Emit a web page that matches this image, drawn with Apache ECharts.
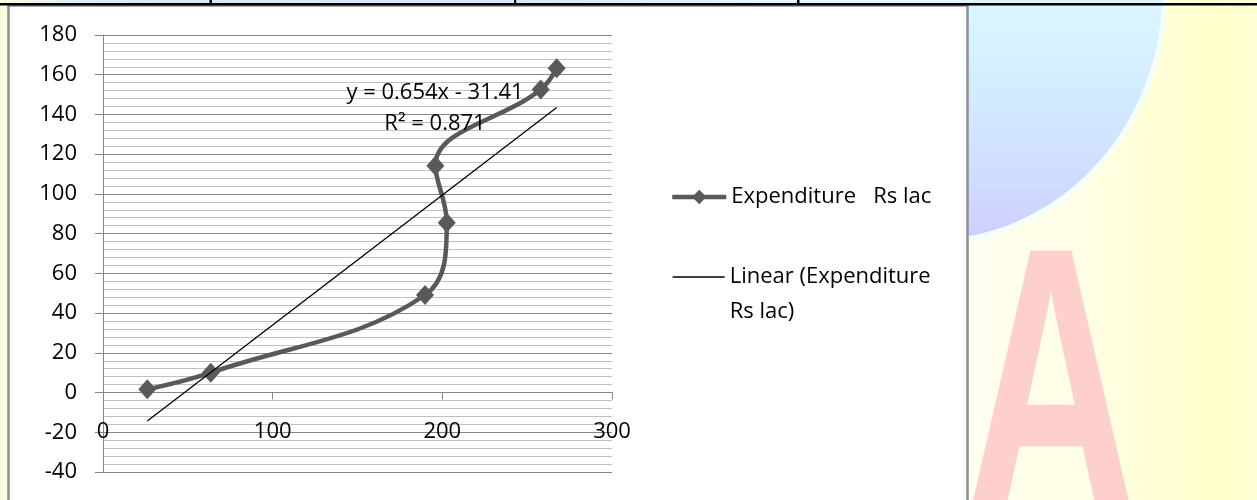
<!DOCTYPE html>
<html>
<head>
<meta charset="utf-8">
<script src="https://cdn.jsdelivr.net/npm/echarts@6/dist/echarts.min.js"></script>
<style>
  html, body { margin: 0; padding: 0; background: #fffde6; }
  #chart { width: 1257px; height: 500px; }
</style>
</head>
<body>
<div id="chart"></div>
<script>
// Expenditure (Rs lac) against the horizontal measure, with its linear fit
const seriesName = 'Expenditure   Rs lac';
const trendName = 'Linear (Expenditure Rs lac)';
const xValues = [26.1, 63.5, 189.8, 202.6, 195.9, 258.0, 267.4];
const expenditure = [1.6, 10.0, 49.1, 85.5, 114.2, 152.6, 163.2];

// Fitted trend line as stated in its label
const trendSlope = 0.654;
const trendIntercept = -31.41;
const rSquared = 0.871;

// Axis ticks
const xTicks = [0, 100, 200, 300];
const yTicks = [-40, -20, 0, 20, 40, 60, 80, 100, 120, 140, 160, 180];

const FONT = '"Open Sans", "Noto Sans", sans-serif';
const FONT_SIZE = 22;
const AXIS_GREY = '#868686';

const points = xValues.map((x, i) => [x, expenditure[i]]);
const xMin = Math.min(...xValues);
const xMax = Math.max(...xValues);
const trendAt = x => trendSlope * x + trendIntercept;
const trendPoints = [[xMin, trendAt(xMin)], [xMax, trendAt(xMax)]];
const equationText =
  'y = ' + trendSlope + 'x ' + (trendIntercept < 0 ? '- ' : '+ ') + Math.abs(trendIntercept) +
  '\nR\u00B2 = ' + rSquared;

const G = echarts.graphic;
const chart = echarts.init(document.getElementById('chart'), null, { renderer: 'canvas' });

const option = {
  animation: false,
  textStyle: { fontFamily: FONT },
  graphic: {
    elements: [
      // page behind the chart box
      { type: 'rect', silent: true, z: -20, z2: 1,
        shape: { x: 0, y: 0, width: 1257, height: 500 },
        style: { fill: '#fdfbe2' } },
      { type: 'rect', silent: true, z: -20, z2: 2,
        shape: { x: 960, y: 0, width: 297, height: 500 },
        style: { fill: new G.LinearGradient(0, 0, 1, 0, [
          { offset: 0, color: '#fffff2' },
          { offset: 0.45, color: '#fffde2' },
          { offset: 0.85, color: '#ffffcc' },
          { offset: 1, color: '#ffffd4' }
        ]) } },
      // globe watermark
      { type: 'ellipse', silent: true, z: -20, z2: 3,
        shape: { cx: 930, cy: -10, rx: 235, ry: 252 },
        style: {
          fill: new G.LinearGradient(0, 0, 0, 1, [
            { offset: 0, color: '#e2fcff' },
            { offset: 0.5, color: '#dcf8ff' },
            { offset: 0.7, color: '#d2ecff' },
            { offset: 0.88, color: '#d0dbff' },
            { offset: 1, color: '#cccdff' }
          ]),
          stroke: '#f3ffff', lineWidth: 5
        } },
      // letter watermark
      { type: 'text', silent: true, z: -20, z2: 4,
        x: 1051, y: 408, scaleX: 0.63,
        style: {
          text: 'A', fontFamily: '"Liberation Sans", Arial, sans-serif', fontWeight: 'bold',
          fontSize: 382, fill: '#fed0cc', align: 'center', verticalAlign: 'middle'
        } },
      // thin strip of page above the table rule
      { type: 'rect', silent: true, z: -20, z2: 5,
        shape: { x: 0, y: 0, width: 968, height: 3.2 },
        style: { fill: new G.LinearGradient(0, 0, 1, 0, [
          { offset: 0, color: '#fdfbe0' },
          { offset: 0.1, color: '#d8eaff' },
          { offset: 0.5, color: '#d2e8ff' },
          { offset: 0.8, color: '#e6f4ff' },
          { offset: 1, color: '#e0f6ff' }
        ]) } },
      // white chart box
      { type: 'rect', silent: true, z: -20, z2: 6,
        shape: { x: 8.5, y: 5.5, width: 959, height: 500 },
        style: { fill: '#ffffff', stroke: '#8f8f8f', lineWidth: 2.5 } },
      // table rules
      { type: 'rect', silent: true, z: -20, z2: 7,
        shape: { x: 0, y: 3, width: 1257, height: 2.6 },
        style: { fill: '#000000' } },
      { type: 'rect', silent: true, z: -20, z2: 8,
        shape: { x: 209.5, y: 0, width: 2.5, height: 5 }, style: { fill: '#000000' } },
      { type: 'rect', silent: true, z: -20, z2: 8,
        shape: { x: 514, y: 0, width: 2.2, height: 5 }, style: { fill: '#000000' } },
      { type: 'rect', silent: true, z: -20, z2: 8,
        shape: { x: 797, y: 0, width: 2.5, height: 5 }, style: { fill: '#000000' } }
    ]
  },
  grid: { left: 103, top: 35, width: 509, height: 437, outerBoundsMode: 'none', containLabel: false },
  xAxis: {
    type: 'value',
    min: xTicks[0], max: xTicks[xTicks.length - 1], interval: xTicks[1] - xTicks[0],
    axisLine: { show: true, onZero: true, lineStyle: { color: AXIS_GREY, width: 1 } },
    axisTick: { show: true, inside: false, length: 7, lineStyle: { color: AXIS_GREY } },
    // labels sit level with the -20 gridline, measured from the bottom of the plot
    axisLabel: { color: '#000', fontSize: FONT_SIZE, lineHeight: 22, margin: -51, fontFamily: FONT },
    splitLine: { show: false }
  },
  yAxis: {
    type: 'value',
    min: yTicks[0], max: yTicks[yTicks.length - 1], interval: yTicks[1] - yTicks[0],
    axisLine: { show: true, onZero: false, lineStyle: { color: AXIS_GREY, width: 1 } },
    axisTick: { show: true, inside: false, length: 8, lineStyle: { color: AXIS_GREY } },
    axisLabel: { color: '#000', fontSize: FONT_SIZE, margin: 26, fontFamily: FONT },
    splitLine: { show: true, lineStyle: { color: AXIS_GREY, width: 1 } },
    minorTick: { show: false, splitNumber: 5 },
    minorSplitLine: { show: true, lineStyle: { color: '#c0c0c0', width: 1 } }
  },
  legend: [
    {
      data: [seriesName], orient: 'vertical', left: 670, top: 184, padding: 0,
      itemWidth: 54, itemHeight: 18, selectedMode: false,
      lineStyle: { width: 4.5 },
      textStyle: { fontSize: FONT_SIZE, lineHeight: 26, color: '#000', fontFamily: FONT }
    },
    {
      data: [{ name: trendName, itemStyle: { color: 'rgba(0,0,0,0)', borderWidth: 0, opacity: 0 } }],
      orient: 'vertical', left: 672, top: 224.5, padding: 0,
      itemWidth: 52, itemHeight: 18, selectedMode: false,
      lineStyle: { width: 1.3, color: '#000' },
      // first line sits level with the key line, the rest wraps below
      formatter: name => '\n' + name.replace(' Rs lac', '\nRs lac'),
      textStyle: { fontSize: FONT_SIZE, lineHeight: 35, color: '#000', fontFamily: FONT }
    }
  ],
  series: [
    {
      name: seriesName,
      type: 'line',
      data: points,
      smooth: 0.4,
      symbol: 'diamond',
      symbolSize: [18, 20],
      lineStyle: { color: '#595959', width: 4.5 },
      itemStyle: { color: '#595959' },
      z: 3
    },
    {
      name: trendName,
      type: 'line',
      data: trendPoints,
      symbol: 'none',
      lineStyle: { color: '#000000', width: 1.3 },
      itemStyle: { color: '#000000' },
      z: 4,
      markPoint: {
        symbol: 'circle',
        symbolSize: 1,
        itemStyle: { color: 'rgba(0,0,0,0)' },
        label: {
          show: true, position: 'inside', formatter: equationText,
          fontSize: FONT_SIZE, lineHeight: 31, color: '#000', align: 'center', fontFamily: FONT
        },
        data: [{ coord: [195.7, 143.1] }]
      }
    }
  ]
};

chart.setOption(option);
</script>
</body>
</html>
